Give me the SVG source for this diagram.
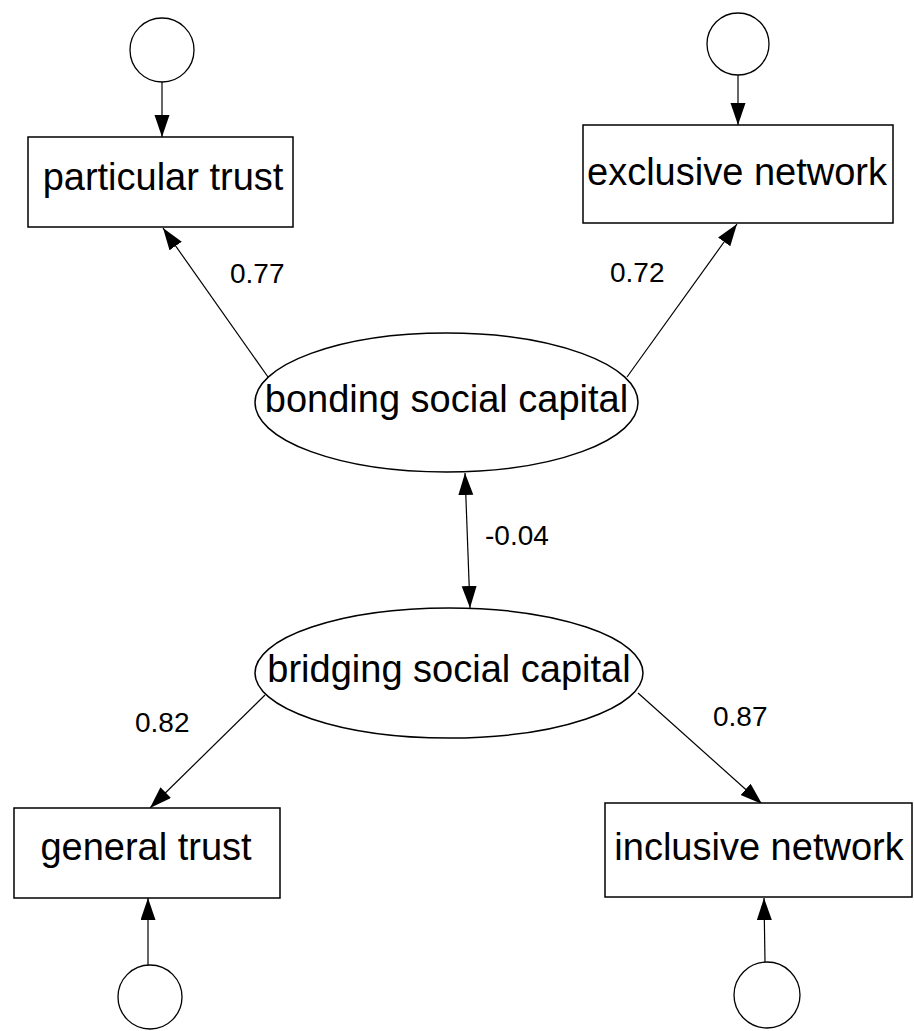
<svg xmlns="http://www.w3.org/2000/svg" width="914" height="1031" viewBox="0 0 914 1031">
<defs>
<marker id="ah" markerUnits="userSpaceOnUse" markerWidth="24" markerHeight="16" refX="22" refY="7.5" orient="auto-start-reverse">
<path d="M0,0 L22,7.5 L0,15 Z" fill="#000"/>
</marker>
</defs>
<style>
.box{fill:#fff;stroke:#000;stroke-width:1.5}
.lat{fill:#fff;stroke:#000;stroke-width:1.5}
.err{fill:#fff;stroke:#000;stroke-width:1.3}
.lbl{font-family:"Liberation Sans",Arial,sans-serif;font-size:38px;fill:#000;text-anchor:middle}
.num{font-family:"Liberation Sans",Arial,sans-serif;font-size:28px;fill:#000}
.edge{stroke:#000;stroke-width:1.2;fill:none;marker-end:url(#ah)}
</style>
<rect width="914" height="1031" fill="#fff"/>
<g id="connectors">
<line class="edge" x1="162" y1="82" x2="162" y2="137"/>
<line class="edge" x1="738" y1="75" x2="738" y2="125"/>
<line class="edge" x1="148" y1="965" x2="148" y2="898"/>
<line class="edge" x1="765" y1="962" x2="764" y2="898"/>
<line class="edge" x1="268" y1="377" x2="163" y2="228"/>
<line class="edge" x1="627" y1="377" x2="737" y2="224"/>
<line class="edge" x1="265" y1="695" x2="150" y2="808"/>
<line class="edge" x1="638" y1="693" x2="762" y2="804"/>
<line class="edge" x1="465" y1="473" x2="470" y2="608" marker-start="url(#ah)"/>
<text class="num" x="230" y="283">0.77</text>
<text class="num" x="610" y="282">0.72</text>
<text class="num" x="485" y="545">-0.04</text>
<text class="num" x="135" y="732">0.82</text>
<text class="num" x="713" y="726">0.87</text>
</g>
<g id="e1"><circle class="err" cx="162" cy="50" r="32"/></g>
<g id="e2"><circle class="err" cx="738" cy="44" r="31"/></g>
<g id="e3"><circle class="err" cx="150" cy="997" r="32"/></g>
<g id="e4"><circle class="err" cx="767" cy="995" r="33"/></g>
<g id="particular-trust"><rect class="box" x="28" y="137" width="265" height="90"/><text class="lbl" x="163" y="190">particular trust</text></g>
<g id="exclusive-network"><rect class="box" x="583" y="125" width="310" height="98"/><text class="lbl" x="737" y="185">exclusive network</text></g>
<g id="general-trust"><rect class="box" x="14" y="808" width="266" height="90"/><text class="lbl" x="146" y="860">general trust</text></g>
<g id="inclusive-network"><rect class="box" x="605" y="803" width="307" height="94"/><text class="lbl" x="759" y="860">inclusive network</text></g>
<g id="bonding"><ellipse class="lat" cx="446.5" cy="402.5" rx="191.5" ry="69.5"/><text class="lbl" x="446.5" y="412">bonding social capital</text></g>
<g id="bridging"><ellipse class="lat" cx="449" cy="673" rx="194" ry="65"/><text class="lbl" x="449" y="682">bridging social capital</text></g>
</svg>
